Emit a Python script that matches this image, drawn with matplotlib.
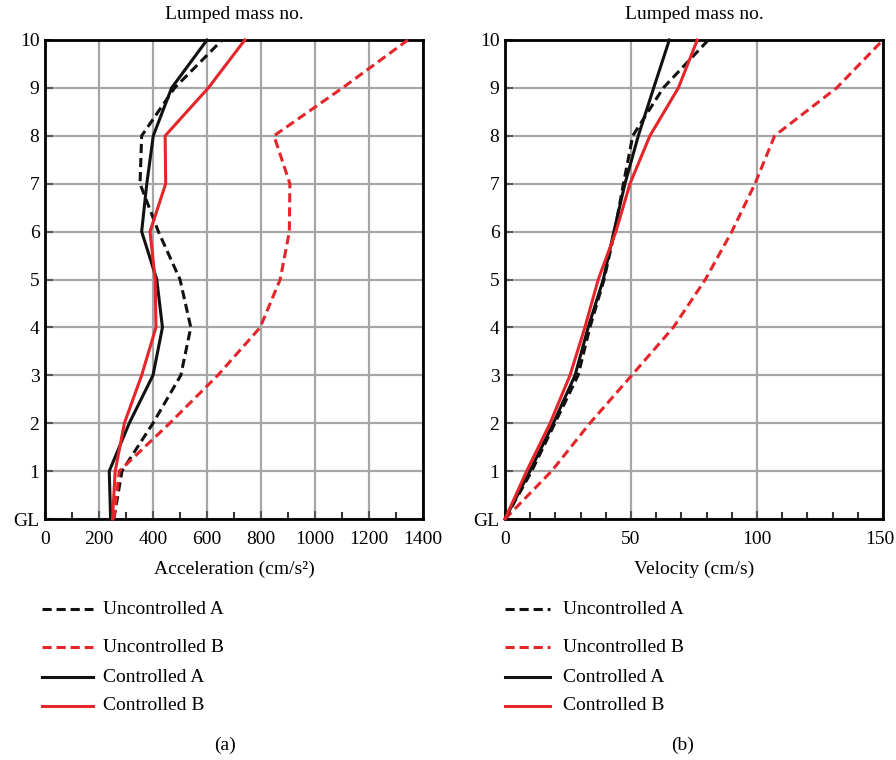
import matplotlib
matplotlib.use("Agg")
import matplotlib.pyplot as plt
import matplotlib.transforms as mtrans
from matplotlib.lines import Line2D

plt.rcParams['font.family'] = ['Liberation Serif', 'DejaVu Serif']

levels = [0, 1, 2, 3, 4, 5, 6, 7, 8, 9, 10]
level_labels = ['GL', '1', '2', '3', '4', '5', '6', '7', '8', '9', '10']

# Acceleration (cm/s^2)
acc_unc_A = [255, 285, 400, 503, 540, 500, 420, 352, 358, 480, 656]
acc_unc_B = [255, 275, 462, 640, 797, 871, 905, 907, 848, 1102, 1344]
acc_con_A = [243, 238, 312, 400, 435, 414, 358, 377, 401, 469, 600]
acc_con_B = [250, 260, 294, 358, 411, 408, 389, 447, 445, 605, 740]

# Velocity (cm/s)
vel_unc_A = [0, 10.6, 19.8, 29.0, 33.7, 39.3, 43.5, 47.0, 50.7, 62.8, 80.7]
vel_unc_B = [0, 18.5, 33.7, 50.3, 66.8, 79.5, 90.0, 99.2, 107.0, 131.6, 150.0]
vel_con_A = [0, 9.9, 19.2, 27.8, 33.0, 39.0, 43.2, 47.6, 52.9, 59.0, 65.2]
vel_con_B = [0, 8.6, 17.9, 25.8, 31.7, 37.0, 44.0, 49.6, 57.5, 68.8, 76.3]

series_names = ['Uncontrolled A', 'Uncontrolled B', 'Controlled A', 'Controlled B']

RED = '#e4262b'
BLK = '#111111'
styles = [dict(color=BLK, ls=(0, (3, 1.6))), dict(color=RED, ls=(0, (3, 1.6))),
          dict(color=BLK, ls='-'), dict(color=RED, ls='-')]

W, H = 896, 760
fig = plt.figure(figsize=(W / 100, H / 100), dpi=100)

def fx(px):
    return px / W

def fy(py):
    return 1 - py / H

ax1 = fig.add_axes([fx(45), fy(519), fx(423 - 45), (519 - 40) / H])
ax2 = fig.add_axes([fx(505), fy(519), fx(883 - 505), (519 - 40) / H])

FS = 14

def style_axes(ax, xmax, major, minor):
    ax.set_xlim(0, xmax)
    ax.set_ylim(0, 10)
    ax.set_xticks(range(0, xmax + 1, major))
    ax.set_xticks(range(0, xmax + 1, minor), minor=True)
    ax.set_yticks(levels)
    ax.set_yticklabels(level_labels)
    ax.grid(True, which='major', color='#a6a6a6', lw=1.6)
    ax.set_axisbelow(True)
    for s in ax.spines.values():
        s.set_linewidth(2.0)
        s.set_color('black')
    ax.tick_params(axis='x', which='major', direction='in', length=6, width=1.5,
                   labelsize=FS, pad=9, color='#555555')
    ax.tick_params(axis='x', which='minor', direction='in', length=5, width=1.5, color='#333333')
    ax.tick_params(axis='y', which='major', direction='in', length=6, width=1.5,
                   labelsize=FS, pad=4, color='#555555')
    ax.text(0.5, 1.035, 'Lumped mass no.', transform=ax.transAxes, ha='center',
            va='bottom', fontsize=FS)

for ax, data in [(ax1, [acc_unc_A, acc_unc_B, acc_con_A, acc_con_B]),
                 (ax2, [vel_unc_A, vel_unc_B, vel_con_A, vel_con_B])]:
    for vals, st in zip(data, styles):
        ax.plot(vals, levels, color=st['color'], ls=st['ls'], lw=2.2, clip_on=False, zorder=3)

style_axes(ax1, 1400, 200, 100)
style_axes(ax2, 150, 50, 10)
ax1.set_xlabel('Acceleration (cm/s²)', fontsize=FS, labelpad=9)
ax2.set_xlabel('Velocity (cm/s)', fontsize=FS, labelpad=9)

# keep the last velocity tick label inside the figure
lbl = ax2.get_xticklabels()[-1]
lbl.set_transform(lbl.get_transform() + mtrans.ScaledTranslation(-3 / 100, 0, fig.dpi_scale_trans))

# Legends
rows = [609, 647, 677, 706]
for x0, x1, xt in [(42, 93, 103), (505, 550, 563)]:
    for r, name, st in zip(rows, series_names, styles):
        fig.add_artist(Line2D([fx(x0), fx(x1)], [fy(r), fy(r)], color=st['color'],
                              ls=st['ls'], lw=2.2, transform=fig.transFigure))
        fig.text(fx(xt), fy(r), name, ha='left', va='center', fontsize=FS)

fig.text(fx(225), fy(745), '(a)', ha='center', va='center', fontsize=FS)
fig.text(fx(683), fy(745), '(b)', ha='center', va='center', fontsize=FS)

fig.savefig('out.png', dpi=100)
